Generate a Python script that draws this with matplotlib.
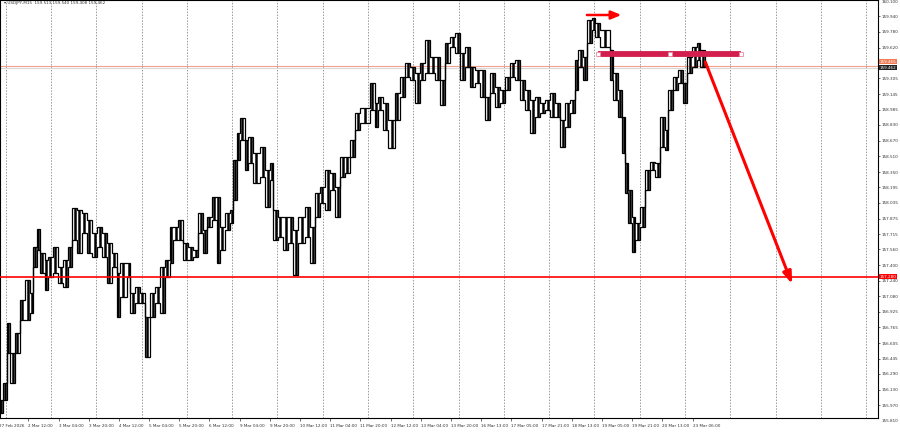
import numpy as np
import matplotlib.pyplot as plt
from matplotlib.transforms import blended_transform_factory

# USDJPY M15 - sampled high/low of groups of bars (x = M15 bar index)
bars = [0, 6, 15, 21, 32, 42, 53, 64, 70, 78, 85, 95, 102, 112, 123, 134, 144, 153, 163, 174, 184, 195, 206, 216, 227, 237, 248,
        254, 269, 276, 286, 297, 307, 318, 329, 339, 350, 360, 367, 377, 388, 399, 409, 420, 430, 439, 449, 460, 466, 477, 488, 494, 502,
        509, 519, 526, 536, 551, 562, 572, 579, 589, 600, 611, 621, 632, 647, 657, 668, 678, 689, 700, 710, 721, 731, 742, 753,
        763, 784, 795, 801, 812, 823, 837, 848, 859, 869, 880, 890, 901, 912, 922, 933, 943, 954, 965, 975, 986, 996, 1007,
        1018, 1028, 1039, 1049, 1060, 1071, 1081, 1092, 1102, 1113, 1124, 1134, 1145, 1155, 1166, 1177, 1187, 1198, 1208, 1219, 1225, 1236, 1244, 1255, 1261,
        1272, 1293, 1300, 1310, 1319, 1325, 1331, 1340, 1346, 1357, 1367, 1378, 1389, 1399, 1410, 1416, 1427, 1437, 1448, 1456, 1467, 1478, 1484]
last_bar = 1495

high = [156.023, 156.197, 156.809, 156.503, 156.707, 157.044, 157.248, 157.115, 157.585, 157.768, 157.523, 157.452, 157.483, 157.585, 157.381, 157.452, 157.585, 157.983, 157.962, 157.932, 157.860, 157.727, 157.789, 157.727, 157.625, 157.523, 157.319,
        157.421, 157.421, 157.115, 157.177, 157.115, 156.870, 157.115, 157.177, 157.381, 157.452, 157.789, 157.789, 157.860, 157.625, 157.585, 157.554, 157.932, 157.758, 157.891, 158.095, 158.095, 157.789, 157.932, 157.962, 158.472, 158.748,
        158.901, 158.676, 158.707, 158.544, 158.605, 158.370, 158.442, 157.962, 157.891, 157.891, 157.891, 157.758, 157.891, 157.993, 157.789, 158.136, 158.197, 158.370, 158.340, 158.197, 158.503, 158.503, 158.676, 158.952,
        159.003, 159.258, 159.054, 159.115, 159.054, 158.880, 159.156, 159.319, 159.462, 159.421, 159.360, 159.462, 159.697, 159.523, 159.523, 159.289, 159.666, 159.727, 159.768, 159.564, 159.625, 159.421, 159.391,
        159.391, 159.115, 159.360, 159.217, 159.187, 159.319, 159.462, 159.493, 159.289, 159.187, 159.085, 159.115, 159.054, 159.085, 159.156, 159.054, 158.880, 159.054, 159.085, 159.493, 159.595, 159.523, 159.901, 159.921, 159.870,
        159.799, 159.595, 159.360, 159.187, 158.911, 158.442, 158.166, 157.891, 157.829, 157.993, 158.370, 158.452, 158.442, 158.911, 158.778, 159.187, 159.319, 159.391, 159.258, 159.523, 159.625, 159.666, 159.595]

low = [155.891, 156.023, 156.503, 156.197, 156.503, 156.840, 156.840, 156.911, 157.381, 157.554, 157.319, 157.146, 157.278, 157.319, 157.217, 157.177, 157.381, 157.656, 157.523, 157.727, 157.523, 157.483, 157.585, 157.483, 157.217, 157.381, 156.870,
       157.074, 157.278, 156.911, 157.013, 157.013, 156.462, 156.870, 157.013, 156.911, 157.278, 157.421, 157.656, 157.656, 157.452, 157.452, 157.483, 157.727, 157.523, 157.789, 157.860, 157.421, 157.554, 157.758, 157.829, 158.064, 158.472,
       158.676, 158.370, 158.442, 158.238, 158.299, 157.993, 158.268, 157.656, 157.687, 157.554, 157.625, 157.299, 157.625, 157.687, 157.421, 157.891, 158.034, 157.962, 158.166, 157.891, 158.299, 158.340, 158.503, 158.778,
       158.850, 158.983, 158.809, 158.983, 158.778, 158.595, 158.880, 159.115, 159.319, 159.289, 159.054, 159.289, 159.360, 159.360, 159.289, 159.034, 159.462, 159.625, 159.564, 159.289, 159.421, 159.217, 159.258,
       159.115, 158.880, 159.156, 159.013, 159.054, 159.187, 159.319, 159.289, 159.085, 158.983, 158.748, 158.911, 158.952, 158.983, 158.911, 158.911, 158.605, 158.809, 158.952, 159.187, 159.421, 159.289, 159.666, 159.799, 159.727,
       159.625, 159.289, 159.085, 158.911, 158.544, 158.136, 157.829, 157.534, 157.656, 157.789, 158.166, 158.370, 158.299, 158.605, 158.574, 158.983, 159.187, 159.258, 159.054, 159.360, 159.421, 159.493, 159.421]

price_levels = [160.100, 159.940, 159.780, 159.620, 159.465, 159.305, 159.145, 158.985, 158.830, 158.670, 158.510, 158.350,
                158.195, 158.035, 157.875, 157.715, 157.560, 157.400, 157.240, 157.080, 156.925, 156.765, 156.605, 156.445,
                156.290, 156.130, 155.970, 155.810]
time_ticks = [60 + 64 * k for k in range(23)]
time_labels = ['2 Mar 12:00', '3 Mar 04:00', '3 Mar 20:00', '4 Mar 12:00', '5 Mar 04:00', '5 Mar 20:00', '6 Mar 12:00',
               '9 Mar 04:00', '9 Mar 20:00', '10 Mar 12:00', '11 Mar 04:00', '11 Mar 20:00', '12 Mar 12:00', '13 Mar 04:00',
               '13 Mar 20:00', '16 Mar 13:00', '17 Mar 05:00', '17 Mar 21:00', '18 Mar 13:00', '19 Mar 05:00',
               '19 Mar 21:00', '20 Mar 13:00', '23 Mar 06:00']
day_grid = [12 + 96 * k for k in range(20)]

support = 157.280
ask_line = 159.435
bid_line = 159.410
resistance = 159.554
res_start, res_end = 1268, 1571
arrow_start = (1495, 159.472)
arrow_end = (1679, 157.207)
top_arrow = (1244, 1317, 159.952)

fs = 3.0
txt = '#333333'

fig = plt.figure(figsize=(9, 4.33), dpi=100)
ax = fig.add_axes([0.0, 1 - 418 / 433, 878 / 900, 418 / 433])

ax.set_xlim(0, 1861)
ax.set_ylim(155.840, 160.105)

for g in day_grid:
    ax.axvline(g, color='#9a9a9a', linestyle=(0, (1.5, 1.5)), linewidth=0.7, zorder=0)

# price bars: outline of each group plus its high-low range
edges = np.append(bars, last_bar)
centers = (edges[:-1] + edges[1:]) / 2
ax.stairs(high, edges, baseline=low, fill=False, color='black', linewidth=0.9, zorder=3)
ax.vlines(centers, low, high, color='black', linewidth=1.8, zorder=3)

ax.axhline(support, color='#ff0000', linewidth=1.2, zorder=4)
ax.axhline(ask_line, color='#f4a08c', linewidth=0.8, zorder=2)
ax.axhline(bid_line, color='#d8d8d8', linewidth=0.8, zorder=2)

ax.plot([res_start, res_end], [resistance, resistance], color='#d21f4d', linewidth=4.2, solid_capstyle='butt', zorder=5)
for hx in (res_start, (res_start + res_end) / 2, res_end):
    ax.plot(hx, resistance, marker='s', markersize=2.6, markerfacecolor='white',
            markeredgecolor='#e88aa5', markeredgewidth=0.6, zorder=6)

ax.annotate('', xy=arrow_end, xytext=arrow_start,
            arrowprops=dict(arrowstyle='-|>,head_length=0.7,head_width=0.25', color='#ff0000', linewidth=2.2,
                            shrinkA=0, shrinkB=0), zorder=6)
ax.annotate('', xy=(top_arrow[1], top_arrow[2]), xytext=(top_arrow[0], top_arrow[2]),
            arrowprops=dict(arrowstyle='-|>,head_length=0.6,head_width=0.25', color='#ff0000', linewidth=1.8,
                            shrinkA=0, shrinkB=0), zorder=6)

# right price scale
ax.yaxis.tick_right()
shown = [p for p in price_levels if 155.84 < p < 160.09 and abs(p - 159.465) > 0.01]
ax.set_yticks(shown)
ax.set_yticklabels(['%.3f' % p for p in shown])
ax.tick_params(axis='y', which='major', labelsize=fs, length=1.5, width=0.5, pad=1, colors=txt)
trans = blended_transform_factory(ax.transAxes, ax.transData)
ax.text(1.004, 155.810, '155.810', transform=trans, fontsize=fs, color=txt, va='center', ha='left', clip_on=False)
ax.text(1.004, 160.100, '160.100', transform=trans, fontsize=fs, color=txt, va='top', ha='left', clip_on=False)

ax.text(1.0015, support, '157.280', transform=trans, fontsize=fs, color='white', va='center', ha='left',
        bbox=dict(boxstyle='square,pad=0.12', facecolor='#ff0000', edgecolor='none'), clip_on=False, zorder=7)
ax.text(1.0015, ask_line + 0.04, '159.465', transform=trans, fontsize=fs, color='white', va='center', ha='left',
        bbox=dict(boxstyle='square,pad=0.12', facecolor='#f07a52', edgecolor='none'), clip_on=False, zorder=7)
ax.text(1.0015, ask_line - 0.02, '159.462', transform=trans, fontsize=fs, color='white', va='center', ha='left',
        bbox=dict(boxstyle='square,pad=0.12', facecolor='#222222', edgecolor='none'), clip_on=False, zorder=8)

# time scale
ax.set_xticks(time_ticks)
ax.set_xticklabels(time_labels)
ax.tick_params(axis='x', which='major', labelsize=fs, length=2, width=0.5, pad=2.5, colors=txt)
for lbl in ax.get_xticklabels():
    lbl.set_horizontalalignment('left')
ax.text(-2, -0.014, '27 Feb 2026', transform=blended_transform_factory(ax.transData, ax.transAxes),
        fontsize=fs, color=txt, va='top', ha='left', clip_on=False)

ax.text(0.004, 0.997, '\u25be USDJPY,M15  159.513 159.540 159.408 159.462', transform=ax.transAxes,
        fontsize=3.0, color=txt, va='top', ha='left')

for s in ax.spines.values():
    s.set_color('black')
    s.set_linewidth(0.8)

fig.savefig('out.png', dpi=100, facecolor='white')
